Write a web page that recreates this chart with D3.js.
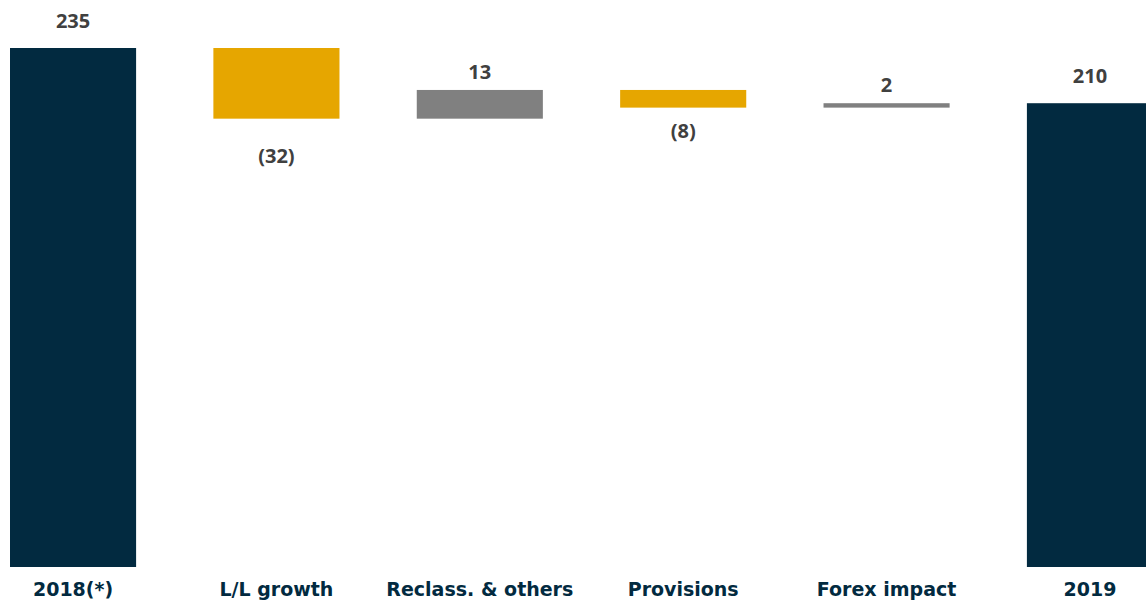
<html>
<head>
<script src="https://d3js.org/d3.v7.min.js"></script>
<style>
  body { margin: 0; background: #fff; }
  svg { display: block; }
</style>
</head>
<body>
<div id="chart"></div>
<script>
// waterfall data
var categories = ["2018(*)", "L/L growth", "Reclass. & others", "Provisions", "Forex impact", "2019"];
var values = [235, -32, 13, -8, 2, 210];
var kinds = ["total", "step", "step", "step", "step", "total"];

var W = 1146, H = 600;
var colors = { total: "#022a40", neg: "#e6a600", pos: "#808080" };

var svg = d3.select("#chart").append("svg").attr("width", W).attr("height", H);

// build running totals
var rows = [];
var run = 0;
for (var i = 0; i < categories.length; i++) {
  var v = values[i];
  var r = { cat: categories[i], v: v, kind: kinds[i] };
  if (kinds[i] == "total") {
    r.y0 = 0; r.y1 = v; run = v;
    r.color = colors.total;
  } else {
    r.y0 = run; r.y1 = run + v; run = run + v;
    r.color = v < 0 ? colors.neg : colors.pos;
  }
  rows.push(r);
}

var x = d3.scaleBand().domain(categories).range([10, 1153]).paddingInner(0.38).paddingOuter(0);
var y = d3.scaleLinear().domain([0, 235]).range([567, 48]);

svg.selectAll("rect.bar").data(rows).enter().append("rect")
  .attr("class", "bar")
  .attr("x", function(d) { return x(d.cat); })
  .attr("width", x.bandwidth())
  .attr("y", function(d) { return y(Math.max(d.y0, d.y1)); })
  .attr("height", function(d) { return Math.abs(y(d.y0) - y(d.y1)); })
  .attr("fill", function(d) { return d.color; });

// value labels
svg.selectAll("text.val").data(rows).enter().append("text")
  .attr("class", "val")
  .attr("x", function(d) { return x(d.cat) + x.bandwidth() / 2; })
  .attr("y", function(d) {
    var top = y(Math.max(d.y0, d.y1)), bot = y(Math.min(d.y0, d.y1));
    if (d.v < 0) return bot + 26 + 0.26 * (bot - top);
    if (d.kind == "total") return top - 20;
    return top - 11;
  })
  .attr("text-anchor", "middle")
  .style("font-family", "'Open Sans', sans-serif")
  .style("font-weight", "bold")
  .style("font-size", "20px")
  .style("fill", "#404040")
  .text(function(d) { return d.v < 0 ? "(" + (-d.v) + ")" : d.v; });

// category axis labels
var ax = svg.append("g").attr("transform", "translate(0,567)")
  .call(d3.axisBottom(x).tickSize(0).tickPadding(0));
ax.select(".domain").remove();
ax.selectAll("text")
  .attr("dy", "29px")
  .style("font-family", "'DejaVu Sans', sans-serif")
  .style("font-weight", "bold")
  .style("font-size", "19px")
  .style("fill", "#022a40");
</script>
</body>
</html>
